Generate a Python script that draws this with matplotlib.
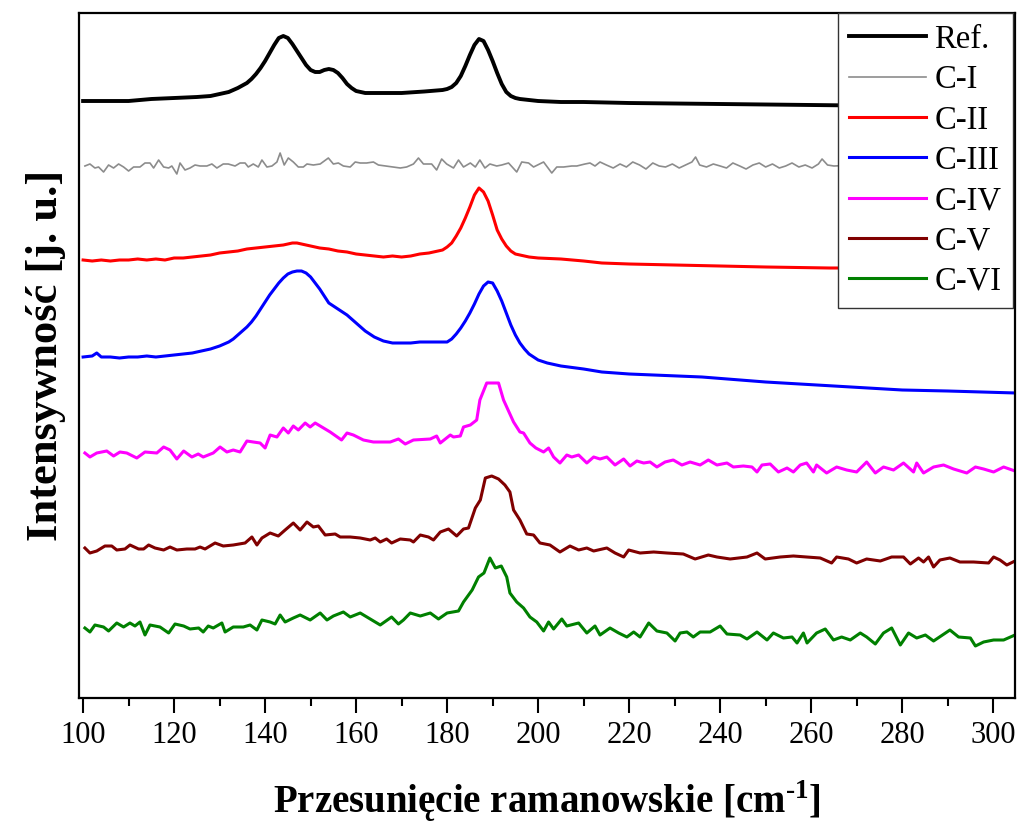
import matplotlib
matplotlib.use("Agg")
import matplotlib.pyplot as plt
from matplotlib.ticker import MultipleLocator

plt.rcParams["font.family"] = ["Liberation Serif", "DejaVu Serif"]
plt.rcParams["mathtext.fontset"] = "custom"
plt.rcParams["mathtext.rm"] = "Liberation Serif:bold"
plt.rcParams["mathtext.bf"] = "Liberation Serif:bold"

# ---- Raman spectra (stacked, arbitrary intensity units) ----
ref_x = [100, 110, 115, 120, 125, 128, 130, 132, 134, 136,
         137, 138, 139, 140, 141, 142, 143, 144, 145, 146, 147, 148, 149, 150,
         151, 152, 153, 154, 155, 156, 157, 158, 159, 160,
         162, 166, 170, 175, 179,
         180, 181, 182, 183, 184, 185, 186, 187, 188, 189, 190, 191, 192, 193, 194, 195, 196,
         198, 200, 205, 210, 220, 240, 260, 280, 305]
ref_y = [597, 597, 599, 600, 601, 602, 604, 606, 610, 615,
         619, 624, 630, 637, 645, 653, 660, 662, 660, 654, 647, 640, 633, 628,
         626, 626, 628, 629, 628, 625, 620, 614, 610, 607,
         605, 605, 605, 606.5, 608,
         609, 611, 615, 622, 632, 643, 653, 659, 657, 648, 637, 625, 614, 606, 602, 600, 599,
         598, 597, 596, 596, 595, 594, 593, 592, 591]

c1_x = [100.4, 101.5, 102.6, 103.4, 104.5, 105.6, 106.7, 107.8, 108.9, 110.0,
        111.1, 112.5, 113.6, 114.7, 115.5, 116.6, 117.7, 118.8, 119.5, 120.6,
        121.3, 122.4, 123.5, 124.6, 125.7, 127.2, 128.3, 129.4, 130.8, 131.9,
        133.4, 134.5, 135.6, 136.3, 137.4, 138.5, 139.3, 140.4, 141.5, 142.6,
        143.3, 144.2, 145.1, 146.2, 147.3, 148.4, 149.2, 150.6, 152.1, 153.9,
        155.0, 156.1, 157.2, 158.7, 159.8, 160.9, 162.3, 163.8, 164.9,
        169.7, 171.1, 172.6, 173.7, 174.8, 176.6, 177.7, 178.8, 179.9, 181.4,
        182.5, 183.6, 185.1, 186.2, 187.2, 188.3, 189.4, 190.9, 192.0, 193.5,
        195.3, 196.4, 197.9, 199.0, 201.2, 203.0, 204.1, 205.6, 207.4, 208.5,
        210.3, 211.4, 212.5, 213.6,
        215.0, 216.5, 218.0, 219.4, 220.8, 222.3, 223.7, 225.2, 226.6, 228.0,
        229.5, 231.0, 232.4, 233.8, 234.6, 235.5, 237.0, 238.5, 240.0, 241.4,
        242.8, 244.3, 245.7, 247.2, 248.6, 250.0, 251.5, 253.0, 254.4, 255.8,
        257.3, 258.7, 260.2, 261.6, 262.4, 263.6, 265.0,
        270.0, 280.0, 290.0, 300.0, 303.5, 304.8]
c1_y = [532, 534, 530, 531, 526, 533, 530, 534, 531, 527,
        531, 531, 535, 535, 530, 538, 531, 530, 532, 524,
        535, 528, 530, 533, 532, 532, 534, 530, 534, 534,
        532, 535, 535, 531, 534, 531, 538, 531, 532, 536,
        545, 533, 540, 536, 531, 531, 534, 533, 534, 540,
        534, 535, 532, 531, 536, 535, 535, 536, 533,
        530, 531, 534, 540, 534, 534, 528, 539, 534, 530,
        538, 531, 535, 531, 538, 530, 534, 532, 533, 535,
        526, 536, 535, 531, 536, 525, 531, 531, 532, 532,
        534, 535, 532, 536,
        533, 530, 534, 531, 536, 533, 529, 535, 532, 531,
        534, 530, 533, 536, 541, 533, 531, 534, 532, 530,
        535, 532, 529, 533, 535, 531, 534, 530, 532, 535,
        531, 533, 530, 534, 539, 533, 532,
        533, 534, 532, 535, 533, 535]

c2_x = [100, 102, 104, 106, 108, 110, 112, 114, 116, 118,
        120, 122, 124, 126, 128, 130, 132, 134, 136, 138,
        140, 142, 144, 146, 147, 148,
        150, 152, 154, 156, 158, 160, 162, 164, 166, 168, 170, 172, 174, 176, 178,
        179, 180, 181, 182, 183, 184, 185, 186, 187, 188, 189, 190, 191, 192, 193, 194, 195, 196,
        198, 200, 205, 210, 214, 220, 230, 240, 250, 264, 280, 305]
c2_y = [438, 437, 438, 437, 438, 438, 439, 438, 439, 438,
        440, 440, 441, 442, 443, 445, 446, 447, 449, 450,
        451, 452, 453, 455, 455, 454,
        452, 450, 449, 447, 446, 444, 443, 442, 441, 442, 441, 442, 444, 445, 447,
        448, 451, 455, 462, 470, 480, 491, 503, 510, 506, 497, 483, 468, 459, 452, 447, 444, 443,
        441, 440, 439, 437, 435, 434, 433, 432, 431, 430, 430, 430]

c3_x = [100, 102, 103, 104,
        106, 108, 110, 112, 114, 116, 118, 120, 122, 124, 126, 128, 130,
        131, 132, 133, 134, 135, 136, 137, 138, 139, 140,
        141, 142, 143, 144, 145, 146, 147, 148, 149, 150,
        151, 152, 153, 154, 155, 156, 157, 158, 159, 160,
        161, 162, 163, 164, 165, 166,
        168, 170, 172, 174, 176, 178, 180,
        181, 182, 183, 184, 185, 186, 187, 188, 189, 190,
        191, 192, 193, 194, 195, 196, 197, 198, 199, 200,
        202, 205, 210, 214, 220, 236, 250, 265, 280, 290, 305]
c3_y = [341, 342, 345, 341,
        341, 340, 341, 341, 342, 341, 342, 343, 344, 345, 347, 349, 352,
        354, 356, 359, 363, 367, 371, 376, 382, 389, 396,
        403, 409, 415, 420, 424, 426, 427, 427, 425, 421,
        415, 409, 402, 395, 392, 389, 386, 383, 379, 375,
        371, 367, 364, 361, 359, 357,
        355, 355, 355, 356, 356, 356, 356,
        359, 364, 370, 377, 385, 394, 404, 412, 416, 415,
        407, 397, 385, 373, 363, 355, 349, 344, 341, 338,
        335, 332, 329, 326, 324, 321, 316, 312, 308, 307, 305]

c4_x = [100.4, 101.5, 103.0, 105.2, 106.7, 108.1, 109.6, 111.8, 113.6, 116.2,
        117.7, 119.1, 120.6, 122.1, 123.9, 125.3, 126.4, 128.6, 130.1, 131.6,
        133.0, 134.5, 136.0, 137.4, 138.9, 140.0, 141.1, 142.6, 144.0, 145.1,
        146.2, 147.3, 148.8, 149.9, 151.0, 152.1, 154.3, 156.8, 158.0, 159.4,
        161.6, 163.8, 167.5, 169.3, 170.8, 172.6, 176.3, 177.7, 178.5, 180.7,
        181.4, 182.9, 183.6, 185.1, 186.5, 187.2, 188.7, 191.3, 192.4, 193.5,
        194.6, 196.0, 196.8, 198.2, 199.5, 201.2, 202.3, 203.4, 204.8, 206.3,
        207.4, 208.9, 210.7, 212.2, 213.6, 215.1, 216.9, 218.8, 220.2, 221.7,
        223.2, 224.6, 226.1, 227.9, 229.7, 231.6, 233.4, 235.6, 237.4, 239.3,
        241.5, 242.9, 245.1, 247.0, 248.1, 249.2, 251.0, 252.8, 254.7, 256.1,
        257.6, 259.0, 260.5, 261.2, 263.4, 265.6, 267.8, 270.0, 272.2, 274.1,
        275.9, 278.1, 280.3, 282.5, 283.2, 284.7, 286.9, 289.1, 291.3, 294.2,
        296.1, 297.9, 300.1, 302.3, 304.8]
c4_y = [245, 241, 245, 247, 242, 246, 245, 240, 246, 245,
        251, 248, 239, 247, 241, 244, 241, 245, 251, 246,
        248, 246, 257, 256, 255, 250, 263, 261, 270, 265,
        272, 268, 275, 271, 275, 272, 266, 258, 265, 263,
        258, 256, 256, 259, 254, 258, 259, 262, 255, 263,
        261, 262, 271, 273, 278, 298, 315, 315, 298, 287,
        276, 266, 265, 255, 250, 246, 250, 241, 235, 243,
        241, 243, 235, 241, 239, 241, 233, 239, 232, 237,
        235, 236, 231, 236, 238, 233, 236, 233, 238, 233,
        235, 231, 232, 231, 226, 233, 234, 226, 230, 226,
        233, 235, 226, 233, 225, 231, 228, 226, 236, 225,
        231, 228, 235, 226, 235, 225, 231, 233, 229, 225,
        231, 229, 226, 231, 227]

c5_x = [100.4, 101.5, 103.0, 104.8, 106.3, 107.4, 109.2, 110.3, 112.2, 113.3,
        114.4, 115.8, 117.7, 119.1, 120.6, 122.8, 124.6, 125.7, 126.8, 129.0,
        130.8, 133.0, 135.6, 137.1, 138.2, 139.3, 141.1, 142.9, 144.4, 146.2,
        147.7, 149.2, 150.6, 151.7, 153.2, 155.4, 156.5, 158.7, 160.9, 163.1,
        164.2, 165.3, 166.7, 167.8, 169.7, 171.9, 172.6, 174.1, 175.9, 177.0,
        178.5, 180.3, 182.1, 183.6, 184.7, 186.2, 187.3, 188.4, 189.8, 191.3,
        192.7, 193.8, 194.6, 196.0, 197.5, 199.0, 200.4, 202.6, 204.8, 207.0,
        208.9, 210.7, 212.2, 215.1, 216.9, 218.8, 219.9, 222.4, 225.4, 228.3,
        231.9, 234.5, 237.4, 239.3, 242.2, 245.9, 248.1, 249.9, 253.2, 256.1,
        259.0, 262.0, 264.5, 265.6, 268.2, 270.0, 272.2, 275.2, 277.7, 280.3,
        281.8, 283.6, 284.7, 285.8, 286.9, 288.3, 290.5, 292.7, 295.7, 299.0,
        300.1, 301.5, 303.0, 304.8]
c5_y = [150, 145, 147, 152, 152, 148, 149, 153, 149, 149,
        153, 150, 148, 151, 148, 149, 149, 151, 149, 155,
        152, 153, 155, 161, 153, 160, 165, 162, 168, 175,
        168, 176, 171, 172, 163, 164, 161, 161, 160, 158,
        160, 156, 159, 155, 159, 158, 156, 163, 161, 158,
        166, 169, 162, 169, 170, 190, 198, 220, 222, 219,
        213, 206, 188, 178, 164, 163, 155, 153, 146, 152,
        148, 150, 147, 150, 145, 141, 148, 145, 146, 145,
        144, 139, 143, 141, 139, 141, 145, 139, 141, 142,
        141, 140, 135, 141, 139, 135, 139, 137, 141, 141,
        134, 140, 136, 141, 131, 138, 140, 136, 136, 135,
        141, 138, 133, 137]

c6_x = [100.4, 101.5, 102.6, 104.5, 105.6, 107.4, 108.9, 110.3, 111.4, 112.5,
        113.6, 114.7, 116.9, 118.8, 120.2, 122.1, 123.5, 125.4, 126.4, 127.5,
        128.6, 130.5, 131.2, 133.0, 135.2, 136.7, 138.2, 139.3, 141.1, 142.2,
        143.3, 144.4, 146.2, 147.7, 149.9, 152.1, 153.6, 155.0, 157.2, 158.7,
        160.9, 163.1, 165.3, 167.8, 169.3, 170.4, 171.9, 174.1, 176.3, 178.1,
        180.0, 182.5, 183.6, 185.5, 186.9, 188.1, 189.4, 190.6, 191.9, 193.1,
        193.8, 195.3, 196.8, 198.2, 199.7, 201.2, 202.3, 203.4, 205.2, 206.3,
        208.9, 210.7, 212.5, 213.6, 215.8, 217.7, 219.5, 221.0, 222.4, 224.3,
        226.1, 228.3, 230.1, 231.2, 232.7, 234.1, 235.6, 237.8, 240.0, 241.5,
        244.4, 245.9, 248.1, 250.3, 251.7, 253.9, 255.8, 256.9, 258.3, 259.1,
        261.2, 263.1, 264.9, 266.7, 268.6, 270.8, 272.2, 274.1, 275.9, 277.7,
        279.6, 281.4, 283.2, 285.1, 286.9, 290.5, 292.4, 295.0, 296.1, 297.9,
        300.1, 302.3, 304.8]
c6_y = [70, 66, 73, 71, 67, 75, 71, 75, 72, 76,
        63, 73, 71, 65, 74, 72, 69, 70, 66, 72,
        70, 75, 66, 71, 71, 73, 68, 78, 76, 74,
        83, 76, 80, 83, 78, 85, 78, 82, 86, 81,
        85, 79, 73, 81, 74, 78, 85, 82, 85, 79,
        85, 87, 96, 108, 121, 125, 140, 130, 132, 121,
        105, 96, 90, 81, 76, 67, 76, 69, 79, 72,
        75, 65, 72, 63, 70, 65, 61, 66, 61, 75,
        67, 65, 57, 65, 66, 61, 66, 66, 72, 64,
        63, 59, 66, 58, 65, 60, 61, 55, 65, 55,
        65, 69, 58, 61, 58, 65, 61, 54, 65, 70,
        53, 65, 60, 63, 57, 68, 61, 60, 52, 56,
        58, 58, 63]

labels = ["Ref.", "C-I", "C-II", "C-III", "C-IV", "C-V", "C-VI"]
series = [(ref_x, ref_y), (c1_x, c1_y), (c2_x, c2_y), (c3_x, c3_y),
          (c4_x, c4_y), (c5_x, c5_y), (c6_x, c6_y)]
colors = ["#000000", "#8c8c8c", "#ff0000", "#0000ff", "#ff00ff", "#800000", "#008000"]
widths = [2.8, 1.2, 2.2, 2.2, 2.2, 2.2, 2.2]

fig = plt.figure(figsize=(10.17, 8.23), dpi=100)
ax = fig.add_axes([79 / 1017, 125 / 823, 936 / 1017, 685 / 823])

for (x, y), lab, c, lw in zip(series, labels, colors, widths):
    ax.plot(x, y, color=c, lw=lw, label=lab, solid_joinstyle="round")

ax.set_xlim(99.1, 304.8)
ax.set_ylim(0, 685)
ax.xaxis.set_major_locator(MultipleLocator(20))
ax.xaxis.set_minor_locator(MultipleLocator(10))
ax.tick_params(axis="x", which="major", direction="out", length=10.5, width=1.5,
               labelsize=22, pad=6)
ax.tick_params(axis="x", which="minor", direction="out", length=5.5, width=1.5)
ax.set_yticks([])
for s in ax.spines.values():
    s.set_linewidth(1.6)

ax.set_xlabel(r"Przesunięcie ramanowskie [cm$^{\text{-1}}$]", fontsize=28,
              fontweight="bold", labelpad=20)
ax.set_ylabel("Intensywność [j. u.]", fontsize=32, fontweight="bold", labelpad=9)

leg = ax.legend(loc="upper right", bbox_to_anchor=(0.9975, 1.0), fontsize=23.5,
                frameon=True, fancybox=False, framealpha=1, edgecolor="#333333",
                handlelength=2.35, handletextpad=0.25, labelspacing=0.3,
                borderpad=0.35, borderaxespad=0.0)
leg.get_frame().set_linewidth(1.0)

fig.savefig("out.png", dpi=100)
